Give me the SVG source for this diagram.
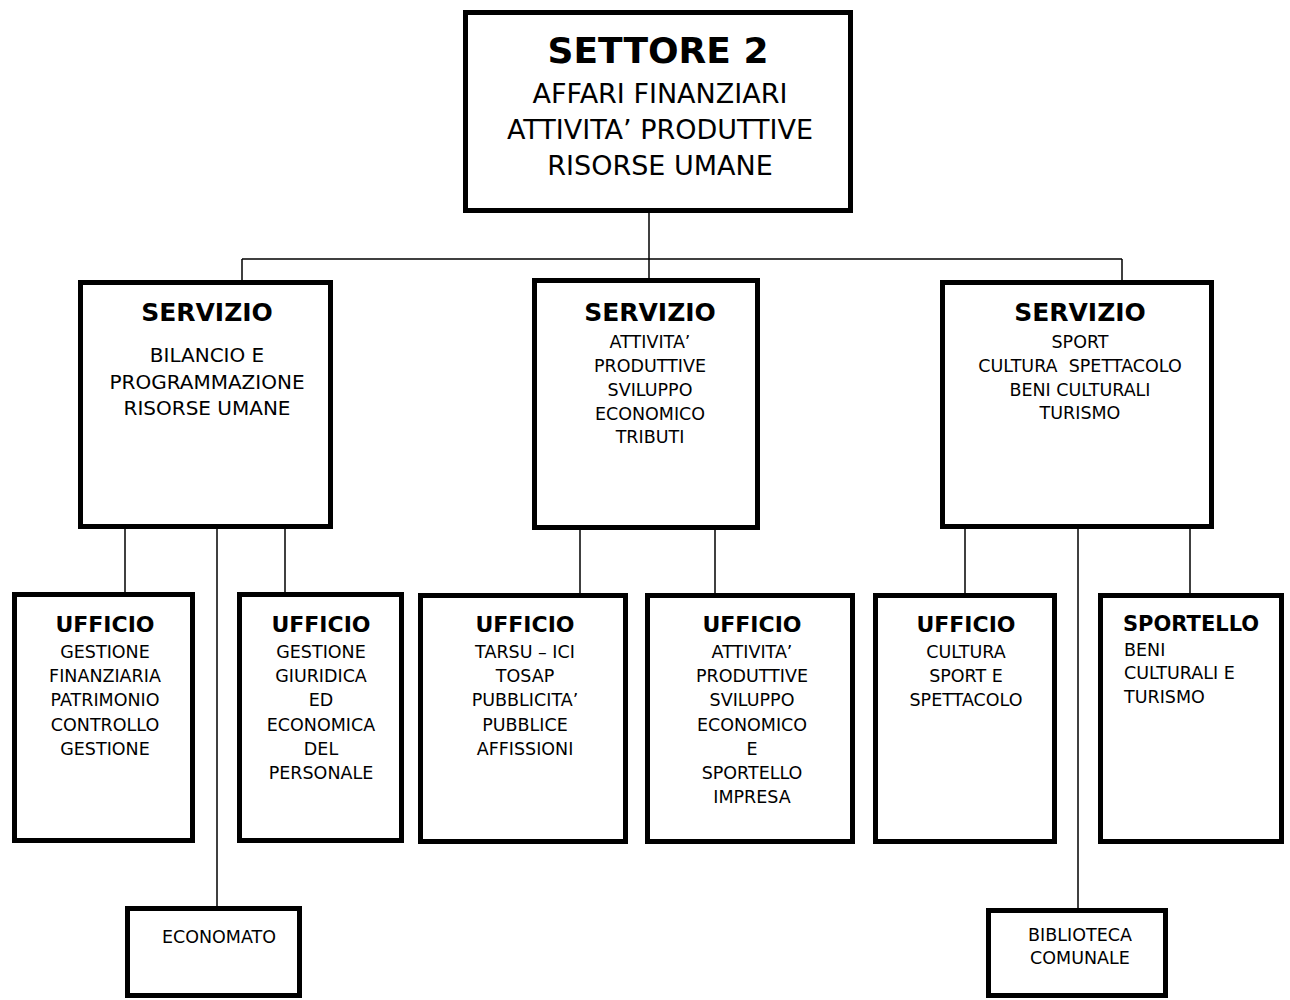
<svg xmlns="http://www.w3.org/2000/svg" width="1290" height="1000" viewBox="0 0 1290 1000">
<style>
.box{fill:#fff;stroke:#000;stroke-width:5}
.con{stroke:#000;stroke-width:1.5;fill:none}
text{font-family:"DejaVu Sans","Liberation Sans",sans-serif;fill:#000;text-anchor:middle}
.t1{font-size:36px;font-weight:bold}
.t2{font-size:27px}
.h1{font-size:25px;font-weight:bold}
.h2{font-size:22px;font-weight:bold}
.b20{font-size:20px}
.b{font-size:17.5px}
.l{text-anchor:start}
</style>
<rect width="1290" height="1000" fill="#fff"/>
<g id="connectors">
<line class="con" x1="649" y1="213" x2="649" y2="300"/>
<line class="con" x1="242" y1="259" x2="1122" y2="259"/>
<line class="con" x1="242" y1="259" x2="242" y2="281"/>
<line class="con" x1="1122" y1="259" x2="1122" y2="281"/>
<line class="con" x1="125" y1="528" x2="125" y2="593"/>
<line class="con" x1="217" y1="528" x2="217" y2="907"/>
<line class="con" x1="285" y1="528" x2="285" y2="593"/>
<line class="con" x1="580" y1="529" x2="580" y2="594"/>
<line class="con" x1="715" y1="529" x2="715" y2="594"/>
<line class="con" x1="965" y1="528" x2="965" y2="593"/>
<line class="con" x1="1078" y1="528" x2="1078" y2="909"/>
<line class="con" x1="1190" y1="528" x2="1190" y2="593"/>
</g>
<g id="settore2">
<rect class="box" x="465.5" y="12.5" width="385" height="198"/>
<text class="t1" x="658" y="63">SETTORE 2</text>
<text class="t2" x="660" y="103">AFFARI FINANZIARI</text>
<text class="t2" x="660" y="139">ATTIVITA’ PRODUTTIVE</text>
<text class="t2" x="660" y="175">RISORSE UMANE</text>
</g>
<g id="servizio1">
<rect class="box" x="80.5" y="282.5" width="250" height="244"/>
<text class="h1" x="207" y="321">SERVIZIO</text>
<text class="b20" x="207" y="362">BILANCIO E</text>
<text class="b20" x="207" y="389">PROGRAMMAZIONE</text>
<text class="b20" x="207" y="415">RISORSE UMANE</text>
</g>
<g id="servizio2">
<rect class="box" x="534.5" y="280.5" width="223" height="247"/>
<text class="h1" x="650" y="321">SERVIZIO</text>
<text class="b" x="650" y="348">ATTIVITA’</text>
<text class="b" x="650" y="372">PRODUTTIVE</text>
<text class="b" x="650" y="396">SVILUPPO</text>
<text class="b" x="650" y="420">ECONOMICO</text>
<text class="b" x="650" y="443">TRIBUTI</text>
</g>
<g id="servizio3">
<rect class="box" x="942.5" y="282.5" width="269" height="244"/>
<text class="h1" x="1080" y="321">SERVIZIO</text>
<text class="b" x="1080" y="348">SPORT</text>
<text class="b" x="1080" y="372" style="white-space:pre" xml:space="preserve">CULTURA  SPETTACOLO</text>
<text class="b" x="1080" y="396">BENI CULTURALI</text>
<text class="b" x="1080" y="419">TURISMO</text>
</g>
<g id="ufficio1">
<rect class="box" x="14.5" y="594.5" width="178" height="246"/>
<text class="h2" x="105" y="632">UFFICIO</text>
<text class="b" x="105" y="658">GESTIONE</text>
<text class="b" x="105" y="682">FINANZIARIA</text>
<text class="b" x="105" y="706">PATRIMONIO</text>
<text class="b" x="105" y="731">CONTROLLO</text>
<text class="b" x="105" y="755">GESTIONE</text>
</g>
<g id="ufficio2">
<rect class="box" x="239.5" y="594.5" width="162" height="246"/>
<text class="h2" x="321" y="632">UFFICIO</text>
<text class="b" x="321" y="658">GESTIONE</text>
<text class="b" x="321" y="682">GIURIDICA</text>
<text class="b" x="321" y="706">ED</text>
<text class="b" x="321" y="731">ECONOMICA</text>
<text class="b" x="321" y="755">DEL</text>
<text class="b" x="321" y="779">PERSONALE</text>
</g>
<g id="ufficio3">
<rect class="box" x="420.5" y="595.5" width="205" height="246"/>
<text class="h2" x="525" y="632">UFFICIO</text>
<text class="b" x="525" y="658">TARSU – ICI</text>
<text class="b" x="525" y="682">TOSAP</text>
<text class="b" x="525" y="706">PUBBLICITA’</text>
<text class="b" x="525" y="731">PUBBLICE</text>
<text class="b" x="525" y="755">AFFISSIONI</text>
</g>
<g id="ufficio4">
<rect class="box" x="647.5" y="595.5" width="205" height="246"/>
<text class="h2" x="752" y="632">UFFICIO</text>
<text class="b" x="752" y="658">ATTIVITA’</text>
<text class="b" x="752" y="682">PRODUTTIVE</text>
<text class="b" x="752" y="706">SVILUPPO</text>
<text class="b" x="752" y="731">ECONOMICO</text>
<text class="b" x="752" y="755">E</text>
<text class="b" x="752" y="779">SPORTELLO</text>
<text class="b" x="752" y="803">IMPRESA</text>
</g>
<g id="ufficio5">
<rect class="box" x="875.5" y="595.5" width="179" height="246"/>
<text class="h2" x="966" y="632">UFFICIO</text>
<text class="b" x="966" y="658">CULTURA</text>
<text class="b" x="966" y="682">SPORT E</text>
<text class="b" x="966" y="706">SPETTACOLO</text>
</g>
<g id="sportello">
<rect class="box" x="1100.5" y="595.5" width="181" height="246"/>
<text class="h2 l" x="1123" y="631" style="font-size:21px">SPORTELLO</text>
<text class="b l" x="1124" y="656">BENI</text>
<text class="b l" x="1124" y="679">CULTURALI E</text>
<text class="b l" x="1124" y="703">TURISMO</text>
</g>
<g id="economato">
<rect class="box" x="127.5" y="908.5" width="172" height="87"/>
<text class="b" x="219" y="943">ECONOMATO</text>
</g>
<g id="biblioteca">
<rect class="box" x="988.5" y="910.5" width="177" height="85"/>
<text class="b" x="1080" y="941">BIBLIOTECA</text>
<text class="b" x="1080" y="964">COMUNALE</text>
</g>
</svg>
